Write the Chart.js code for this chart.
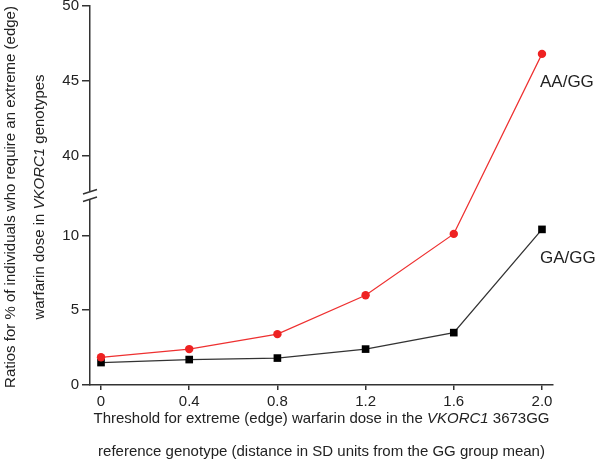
<!DOCTYPE html>
<html><head><meta charset="utf-8">
<script src="https://cdn.jsdelivr.net/npm/chart.js@4/dist/chart.umd.min.js"></script>
<style>html,body{margin:0;padding:0;background:#fff}#wrap{width:600px;height:471px;position:relative}</style>
</head><body><div id="wrap"><canvas id="c" width="600" height="471"></canvas></div>
<script>
// ---- data ----
const thresholds = [0, 0.4, 0.8, 1.2, 1.6, 2.0];
const aaGG = [1.85, 2.4, 3.4, 6.0, 10.1, 46.8];
const gaGG = [1.5, 1.7, 1.8, 2.4, 3.5, 10.4];
const seriesNames = ['AA/GG', 'GA/GG'];
const xTickValues = [0, 0.4, 0.8, 1.2, 1.6, 2.0];
const xTickLabels = ['0', '0.4', '0.8', '1.2', '1.6', '2.0'];
const yTickValues = [0, 5, 10, 40, 45, 50];
const yTickLabels = ['0', '5', '10', '40', '45', '50'];

// ---- broken y axis: the range between 10 and 40 is cut out ----
const BREAK_LO = 10, BREAK_HI = 40, BREAK_GAP = 5.33;
const SHIFT = BREAK_HI - BREAK_LO - BREAK_GAP;
function toAxis(v) { return v > (BREAK_LO + BREAK_HI) / 2 ? v - SHIFT : v; }

const FONT = '"Liberation Sans", Arial, Helvetica, sans-serif';
const TXT = '#222';
const AX = '#333';

function pts(vals) { return thresholds.map((x, i) => ({ x: x, y: toAxis(vals[i]) })); }

function drawRich(ctx, segs, size) {
  let w = 0;
  const parts = segs.map(s => {
    ctx.font = (s.i ? 'italic ' : '') + size + 'px ' + FONT;
    const m = ctx.measureText(s.t).width; w += m; return { s, m };
  });
  let x = -w / 2;
  ctx.textAlign = 'left'; ctx.textBaseline = 'middle';
  parts.forEach(p => {
    ctx.font = (p.s.i ? 'italic ' : '') + size + 'px ' + FONT;
    ctx.fillText(p.s.t, x, 0); x += p.m;
  });
}

const extras = {
  id: 'extras',
  afterDraw(chart) {
    const ctx = chart.ctx, ys = chart.scales.y, xs = chart.scales.x, ca = chart.chartArea;
    ctx.save();
    // axis break
    const cy = ys.getPixelForValue(BREAK_LO + BREAK_GAP / 2);
    const ax = ca.left;
    ctx.fillStyle = '#fff';
    ctx.fillRect(ax - 3, cy - 4, 6, 7.5);
    ctx.strokeStyle = AX; ctx.lineWidth = 1.5;
    ctx.beginPath();
    ctx.moveTo(ax - 7, cy - 1.5); ctx.lineTo(ax + 7, cy - 6);
    ctx.moveTo(ax - 7, cy + 6); ctx.lineTo(ax + 7, cy + 1.5);
    ctx.stroke();
    // series labels next to last points
    ctx.fillStyle = TXT; ctx.font = '17px ' + FONT; ctx.textAlign = 'left'; ctx.textBaseline = 'middle';
    chart.data.datasets.forEach((ds, i) => {
      const meta = chart.getDatasetMeta(i);
      const p = meta.data[meta.data.length - 1];
      ctx.fillText(seriesNames[i], p.x - 2, p.y + 28.5);
    });
    // axis titles
    ctx.fillStyle = TXT;
    const cx = (ca.left + ca.right) / 2;
    ctx.save(); ctx.translate(cx, 419);
    drawRich(ctx, [{ t: 'Threshold for extreme (edge) warfarin dose in the ' }, { t: 'VKORC1', i: true }, { t: ' 3673GG' }], 15);
    ctx.restore();
    ctx.save(); ctx.translate(cx, 452);
    drawRich(ctx, [{ t: 'reference genotype (distance in SD units from the GG group mean)' }], 15);
    ctx.restore();
    const ccy = 197;
    ctx.save(); ctx.translate(11, ccy); ctx.rotate(-Math.PI / 2);
    drawRich(ctx, [{ t: 'Ratios for % of individuals who require an extreme (edge)' }], 15);
    ctx.restore();
    ctx.save(); ctx.translate(40, ccy); ctx.rotate(-Math.PI / 2);
    drawRich(ctx, [{ t: 'warfarin dose in ' }, { t: 'VKORC1', i: true }, { t: ' genotypes' }], 15);
    ctx.restore();
    ctx.restore();
  }
};

new Chart(document.getElementById('c'), {
  type: 'line',
  data: {
    datasets: [
      { label: seriesNames[0], data: pts(aaGG), borderColor: '#ee3030', backgroundColor: '#ee2222',
        borderWidth: 1.2, pointRadius: 4.2, pointStyle: 'circle', pointBorderWidth: 0, tension: 0 },
      { label: seriesNames[1], data: pts(gaGG), borderColor: '#333', backgroundColor: '#000',
        borderWidth: 1.3, pointRadius: 5.4, pointStyle: 'rect', pointBorderWidth: 0, tension: 0 }
    ]
  },
  options: {
    responsive: false, animation: false, devicePixelRatio: 1,
    layout: { padding: { left: 0, top: 6, right: 47, bottom: 0 } },
    plugins: { legend: { display: false }, tooltip: { enabled: false } },
    scales: {
      x: {
        type: 'linear', min: -0.05, max: 2.05,
        afterBuildTicks: s => { s.ticks = xTickValues.map(v => ({ value: v })); },
        afterFit: s => { s.height = 86; s.paddingLeft = 0; s.paddingRight = 0; },
        ticks: { callback: (v, i) => xTickLabels[i], color: TXT, font: { family: FONT, size: 15 }, padding: 3, maxRotation: 0, autoSkip: false },
        grid: { drawOnChartArea: false, drawTicks: true, tickLength: 5, color: AX, lineWidth: 1.5 },
        border: { display: true, color: AX, width: 1.5 }
      },
      y: {
        type: 'linear', min: 0, max: toAxis(50),
        afterBuildTicks: s => { s.ticks = yTickValues.map(v => ({ value: toAxis(v) })); },
        afterFit: s => { s.width = 90; s.paddingTop = 0; s.paddingBottom = 0; },
        ticks: { callback: (v, i) => yTickLabels[i], color: TXT, font: { family: FONT, size: 15 }, padding: 3, autoSkip: false },
        grid: { drawOnChartArea: false, drawTicks: true, tickLength: 8, color: AX, lineWidth: 1.5 },
        border: { display: true, color: AX, width: 1.5 }
      }
    }
  },
  plugins: [extras]
});
</script></body></html>
